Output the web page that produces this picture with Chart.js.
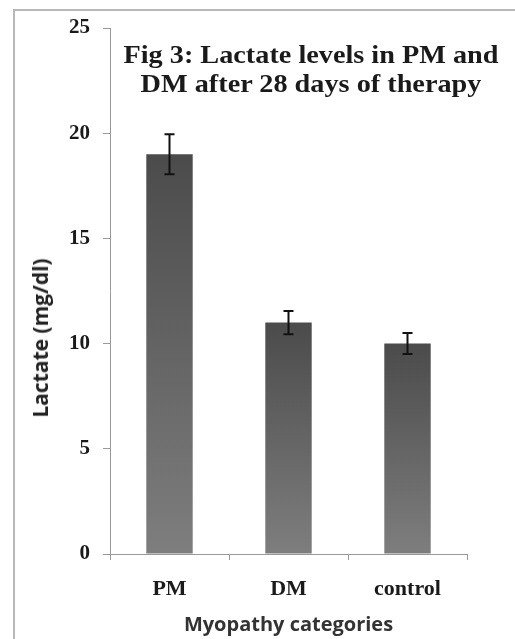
<!DOCTYPE html>
<html>
<head>
<meta charset="utf-8">
<script src="https://cdn.jsdelivr.net/npm/chart.js@4"></script>
<style>
  html, body { margin: 0; padding: 0; background: #fff; overflow: hidden; }
  #wrap { position: relative; width: 515px; height: 639px; }
  #frame { position: absolute; left: 13px; top: 9px; width: 700px; height: 800px; border: 2px solid #b8b8b8; }
  #chart { position: absolute; left: 0; top: 0; }
  #title { position: absolute; left: 110px; width: 402px; top: 40px; text-align: center;
           font: bold 25px "Liberation Serif", serif; line-height: 29px; color: #1a1a1a;
           transform: scaleX(1.13); transform-origin: 201px 0; }
  #ytitle { position: absolute; left: 40px; top: 338px; white-space: nowrap;
            font: bold 21px "Open Sans", sans-serif; color: #222;
            transform: translate(-50%, -50%) rotate(-90deg); }
</style>
</head>
<body>
<div id="wrap">
  <div id="frame"></div>
  <canvas id="chart" width="515" height="639"></canvas>
  <div id="title">Fig 3: Lactate levels in PM and<br>DM after 28 days of therapy</div>
  <div id="ytitle">Lactate (mg/dl)</div>
</div>
<script>
const categories = ['PM', 'DM', 'control'];
const lactate = [19, 11, 10];
const errors = [0.95, 0.55, 0.5];
const yTicks = [0, 5, 10, 15, 20, 25];

// vertical gradient for each bar, dark on top
function barFill(context) {
  const chart = context.chart;
  const y = chart.scales.y;
  if (!y || context.dataIndex === undefined) return '#666';
  const top = y.getPixelForValue(lactate[context.dataIndex]);
  const base = y.getPixelForValue(0);
  if (!isFinite(top) || !isFinite(base) || top === base) return '#666';
  const g = chart.ctx.createLinearGradient(0, top, 0, base);
  g.addColorStop(0, '#4b4b4b');
  g.addColorStop(1, '#7e7e7e');
  return g;
}

const errorBars = {
  id: 'errorBars',
  afterDatasetsDraw(chart) {
    const ctx = chart.ctx;
    const y = chart.scales.y;
    const meta = chart.getDatasetMeta(0);
    ctx.save();
    ctx.strokeStyle = '#111';
    ctx.lineWidth = 2;
    meta.data.forEach((bar, i) => {
      const hi = y.getPixelForValue(lactate[i] + errors[i]);
      const lo = y.getPixelForValue(lactate[i] - errors[i]);
      ctx.beginPath();
      ctx.moveTo(bar.x, hi); ctx.lineTo(bar.x, lo);
      ctx.moveTo(bar.x - 5, hi); ctx.lineTo(bar.x + 5, hi);
      ctx.moveTo(bar.x - 5, lo); ctx.lineTo(bar.x + 5, lo);
      ctx.stroke();
    });
    ctx.restore();
  }
};

const serifBold = '"Liberation Serif", serif';

new Chart(document.getElementById('chart'), {
  type: 'bar',
  data: {
    labels: categories,
    datasets: [{
      data: lactate,
      backgroundColor: barFill,
      borderWidth: 0,
      barPercentage: 0.39,
      categoryPercentage: 1
    }]
  },
  options: {
    responsive: false,
    animation: false,
    layout: { padding: { top: 28, right: 48, left: 0, bottom: 0 } },
    plugins: { legend: { display: false }, tooltip: { enabled: false } },
    scales: {
      x: {
        afterFit(axis) { axis.height = 85; },
        grid: { display: true, drawOnChartArea: false, tickLength: 6, color: '#999', offset: true },
        border: { color: '#999', width: 1 },
        ticks: { font: { family: serifBold, size: 22, weight: 'bold' }, color: '#1a1a1a', padding: 16 },
        title: { display: true, text: 'Myopathy categories',
                 font: { family: '"Open Sans", sans-serif', size: 20, weight: 'bold' },
                 color: '#333', padding: { top: 4, bottom: 2 } }
      },
      y: {
        min: 0,
        max: 25,
        afterFit(axis) { axis.width = 110; },
        afterBuildTicks(axis) { axis.ticks = yTicks.map(v => ({ value: v })); },
        grid: { display: true, drawOnChartArea: false, tickLength: 7, color: '#999' },
        border: { color: '#999', width: 1 },
        ticks: { font: { family: serifBold, size: 21, weight: 'bold' }, color: '#1a1a1a', padding: 13 },
        title: { display: false }
      }
    }
  },
  plugins: [errorBars]
});
</script>
</body>
</html>
